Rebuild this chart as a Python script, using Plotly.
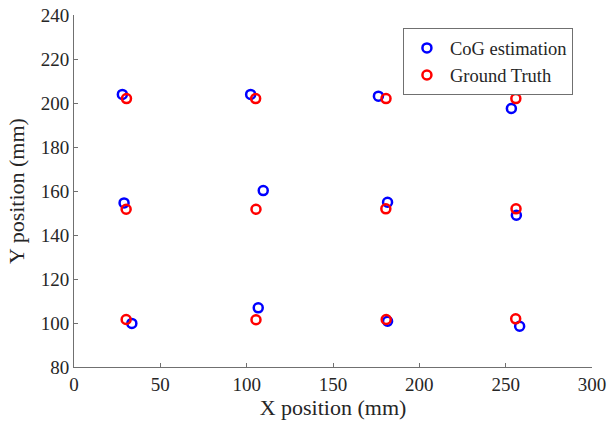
import plotly.graph_objects as go

# CoG estimation (blue) and ground truth (red), in mm
cog_x = [28.0, 102.3, 176.3, 253.3, 29.0, 109.6, 181.6, 256.2, 33.5, 106.7, 181.6, 258.1]
cog_y = [203.9, 203.9, 203.1, 197.5, 154.6, 160.2, 154.9, 149.0, 99.8, 106.9, 100.8, 98.5]
gt_x = [30.4, 105.2, 180.7, 255.9, 30.2, 105.4, 180.6, 256.0, 30.2, 105.4, 180.8, 255.8]
gt_y = [202.0, 202.0, 202.0, 202.0, 151.7, 151.7, 151.9, 151.9, 101.6, 101.5, 101.6, 101.9]

x_ticks = [0, 50, 100, 150, 200, 250, 300]
y_ticks = [80, 100, 120, 140, 160, 180, 200, 220, 240]

FONT = "Liberation Serif, Times New Roman, serif"

fig = go.Figure()
fig.add_trace(go.Scatter(
    x=cog_x, y=cog_y, mode="markers", name="CoG estimation",
    marker=dict(symbol="circle-open", size=9, color="#0000FF", line=dict(width=2.5, color="#0000FF")),
))
fig.add_trace(go.Scatter(
    x=gt_x, y=gt_y, mode="markers", name="Ground Truth",
    marker=dict(symbol="circle-open", size=9, color="#FF0000", line=dict(width=2.5, color="#FF0000")),
))

axis_common = dict(
    showgrid=False, zeroline=False, showline=True, linecolor="#707070", linewidth=1,
    ticks="inside", ticklen=4, tickcolor="#707070", mirror=False, automargin=False,
    ticklabeloverflow="allow",
    tickfont=dict(family=FONT, size=19, color="#262626"),
)

fig.update_layout(
    width=610, height=428,
    margin=dict(l=74, r=18, t=15, b=61),
    paper_bgcolor="white", plot_bgcolor="white",
    font=dict(family=FONT, color="#262626"),
    showlegend=True,
    legend=dict(
        x=0.635, y=0.962, xanchor="left", yanchor="top",
        bgcolor="white", bordercolor="#707070", borderwidth=1,
        font=dict(family=FONT, size=18.5, color="#262626"),
        tracegroupgap=0, itemwidth=36,
    ),
    xaxis=dict(range=[0, 300], tickvals=x_ticks, **axis_common,
               title=dict(text="X position (mm)", font=dict(family=FONT, size=22, color="#262626"), standoff=2)),
    yaxis=dict(range=[80, 240], tickvals=y_ticks, **axis_common,
               title=dict(text="Y position (mm)", font=dict(family=FONT, size=22, color="#262626"), standoff=10)),
)

# remove the default page margin so the 610x428 figure fills the window exactly
fig.write_html("out.html", config={"displayModeBar": False},
               post_script="document.body.style.margin='0';")
